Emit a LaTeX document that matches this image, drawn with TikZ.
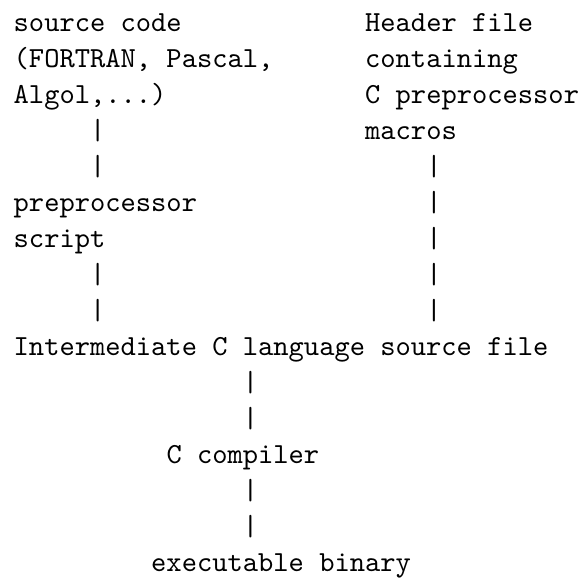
\documentclass[tikz,border=0pt]{standalone}
\usepackage{fontspec}
% 10pt design size of Latin Modern Mono, scaled up
\newfontfamily\asciifont{lmmono10-regular.otf}
\begin{document}
\begin{tikzpicture}[
  x=1pt, y=1pt,
  txt/.style={inner sep=0pt, outer sep=0pt, anchor=base west,
              font=\asciifont\fontsize{29.1}{36}\selectfont}
]
% character grid: column width 15.28pt (0.525em), line pitch 36pt
\newcommand\cw{15.28}
\newcommand\lp{36}
\newcommand\ox{13.7}
\newcommand\oy{31.7}
\newcommand\gridtext[4]{\node[txt] (#1) at ({\ox+#2*\cw},{-\oy-#3*\lp}) {#4};}

\useasboundingbox (0,0) rectangle (581,-579);

% left column: source and preprocessor script
\gridtext{src1}{0}{0}{source code}
\gridtext{src2}{0}{1}{(FORTRAN, Pascal,}
\gridtext{src3}{0}{2}{Algol,...)}
\gridtext{lbarA}{5}{3}{|}
\gridtext{lbarB}{5}{4}{|}
\gridtext{pre1}{0}{5}{preprocessor}
\gridtext{pre2}{0}{6}{script}
\gridtext{lbarC}{5}{7}{|}
\gridtext{lbarD}{5}{8}{|}

% right column: header file
\gridtext{hdr1}{23}{0}{Header file}
\gridtext{hdr2}{23}{1}{containing}
\gridtext{hdr3}{23}{2}{C preprocessor}
\gridtext{hdr4}{23}{3}{macros}
\gridtext{rbarA}{27}{4}{|}
\gridtext{rbarB}{27}{5}{|}
\gridtext{rbarC}{27}{6}{|}
\gridtext{rbarD}{27}{7}{|}
\gridtext{rbarE}{27}{8}{|}

% merged flow
\gridtext{inter}{0}{9}{Intermediate C language source file}
\gridtext{cbarA}{15}{10}{|}
\gridtext{cbarB}{15}{11}{|}
\gridtext{comp}{10}{12}{C compiler}
\gridtext{cbarC}{15}{13}{|}
\gridtext{cbarD}{15}{14}{|}
\gridtext{exe}{9}{15}{executable binary}
\end{tikzpicture}
\end{document}
